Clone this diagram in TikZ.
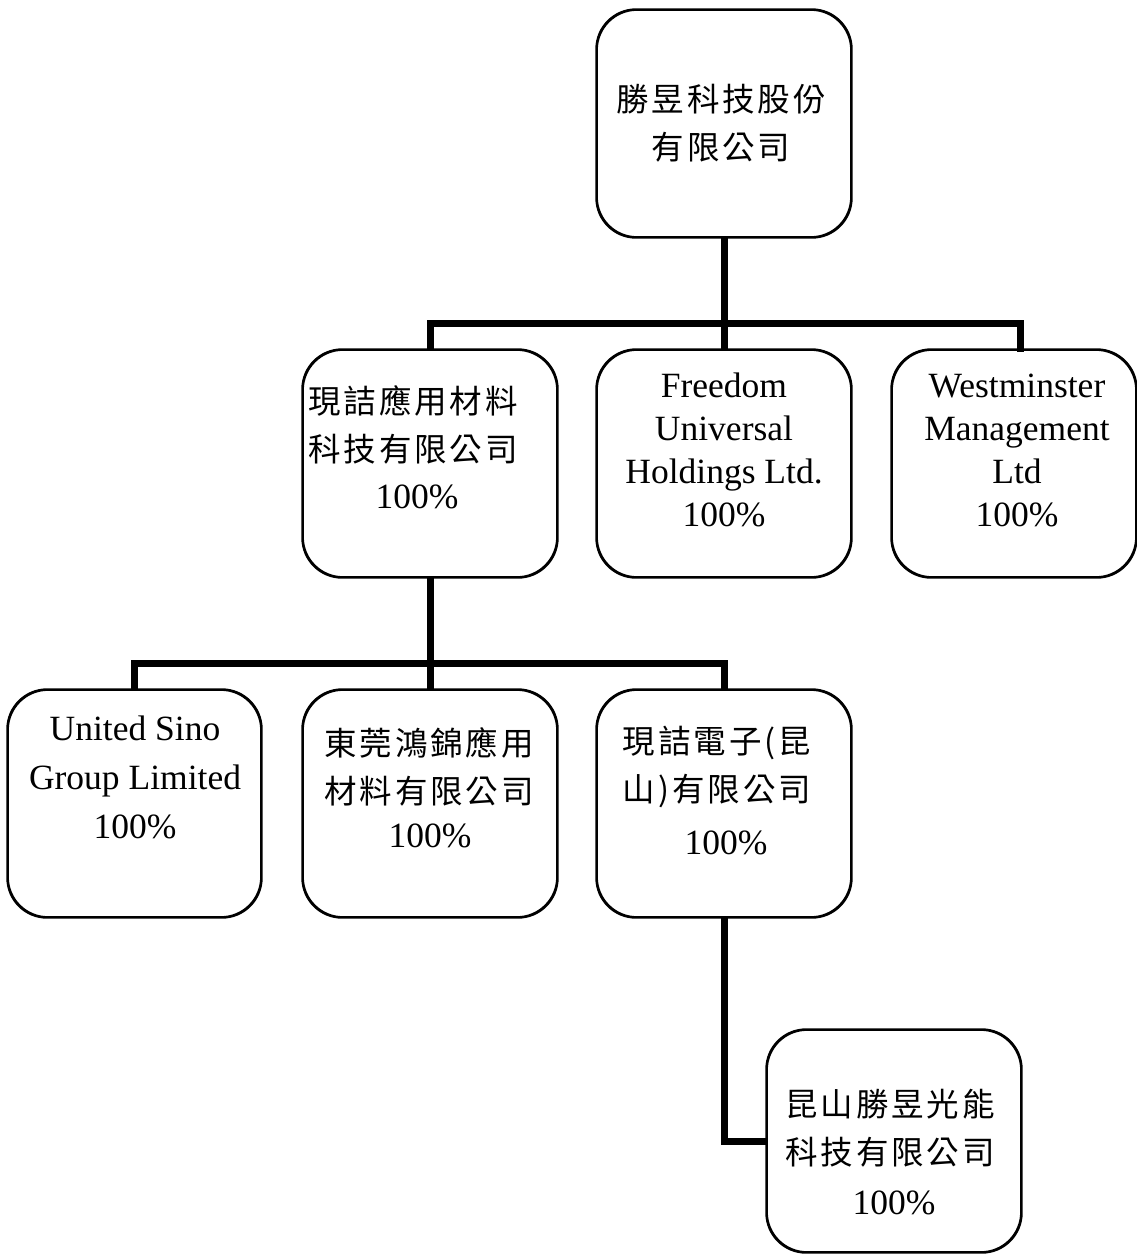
\documentclass[tikz,border=0pt]{standalone}
\usepackage{fontspec}
\setmainfont{Liberation Serif}
\newfontfamily\cjk[LetterSpace=9]{Noto Sans CJK TC}
\begin{document}
\begin{tikzpicture}[x=1pt,y=-1pt,
  box/.style={draw=black, line width=1.7pt, rounded corners=40pt, fill=white,
    minimum width=254pt, minimum height=227pt, inner sep=0pt},
  border/.style={draw=black, line width=1.7pt, rounded corners=40pt},
  conn/.style={draw=black, line width=7pt},
  lat/.style={align=center, inner sep=0pt, font=\fontsize{35.5}{43}\selectfont},
  latw/.style={align=center, inner sep=0pt, font=\fontsize{35.5}{49}\selectfont},
  zh/.style={align=center, inner sep=0pt, font=\fontsize{32.5}{48}\selectfont}]
\useasboundingbox (0,0) rectangle (1137,1254);
\coordinate (bus1) at (724,323);
\coordinate (bus2) at (430,663);
\coordinate (cdrop) at (1020,352);
\node[box] (top) at (724,123.5) {};
\node[box] (A) at (430,463.5) {};
\node[box] (B) at (724,463.5) {};
\node[box, minimum width=244pt] (C) at (1014,463.5) {};
\node[box, minimum width=253pt] (D) at (134.5,803.5) {};
\node[box] (E) at (430,803.5) {};
\node[box] (F) at (724,803.5) {};
\node[box, minimum height=222pt] (G) at (894,1141) {};
\draw[conn] (top.south) -- (bus1);
\draw[conn] (A.north) |- (bus1) -| (cdrop);
\draw[conn] (bus1) -- (B.north);
\draw[conn] (A.south) -- (E.north);
\draw[conn] (D.north) |- (bus2) -| (F.north);
\draw[conn] (F.south) |- (G.west);
% redraw box borders over connector ends
\foreach \n in {top,A,B,C,D,E,F,G}{\draw[border] (\n.south west) rectangle (\n.north east);}
% texts
\node[zh] (ttop) at (721,123) {\cjk 勝昱科技股份\\\cjk 有限公司};
\node[zh] (tA1) at (413,424.5) {\cjk 現詰應用材料\\\cjk 科技有限公司};
\node[lat] (tA2) at (417,497) {100\%};
\node[lat] (tB) at (724,450) {Freedom\\Universal\\Holdings Ltd.\\100\%};
\node[lat] (tC) at (1017,450) {Westminster\\Management\\Ltd\\100\%};
\node[latw] (tD) at (135,777) {United Sino\\Group Limited\\100\%};
\node[zh] (tE1) at (429,766.5) {\cjk 東莞鴻錦應用\\\cjk 材料有限公司};
\node[lat] (tE2) at (430,836) {100\%};
\node[zh] (tF1) at (717,767) {\cjk 現詰電子(昆\\\cjk 山)有限公司};
\node[lat] (tF2) at (726,843) {100\%};
\node[zh] (tG1) at (890,1128.5) {\cjk 昆山勝昱光能\\\cjk 科技有限公司};
\node[lat] (tG2) at (894,1203) {100\%};
\end{tikzpicture}
\end{document}
